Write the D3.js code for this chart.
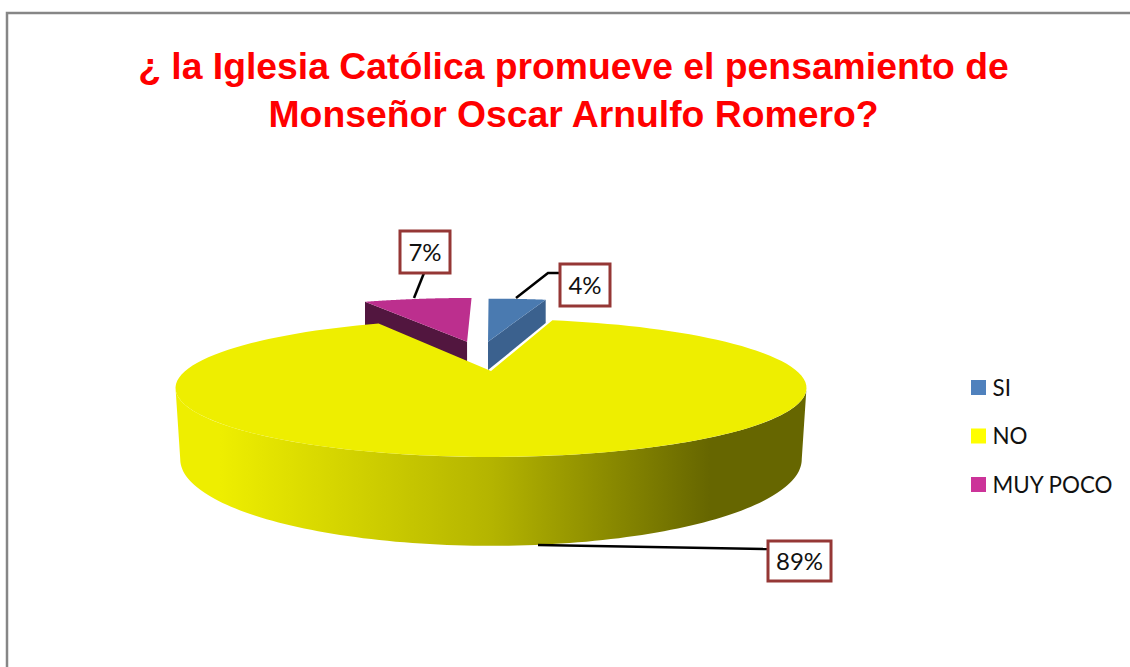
<!DOCTYPE html>
<html><head><meta charset="utf-8">
<script src="https://cdn.jsdelivr.net/npm/d3@7"></script>
<style>html,body{margin:0;padding:0;background:#fff}svg{display:block}</style>
</head><body><svg id="c" width="1130" height="667"></svg>
<script>
const titleLines = ["¿ la Iglesia Católica promueve el pensamiento de", "Monseñor Oscar Arnulfo Romero?"];
const categories = ["SI", "NO", "MUY POCO"];
const seriesValues = [4, 88.6, 7.4];
const topColors = ["#4a7ab0", "#eeee00", "#bc2f8e"];
const sideColors = ["#3b618e", "#eeee00", "#52163f"];
const legendColors = ["#4f81bd", "#ffff00", "#cc3399"];
const explodeX = [-0.011, 0, -0.088];
const explodeY = [-0.51, 0, -0.51];
const sliceRadius = [1.03, 1, 1.05];
const labelBoxes = [[585, 285], [799.5, 561], [425, 252]];
const labelSizes = [[50, 42], [63, 40], [50, 42]];
const leaders = [[[516, 298], [548, 273], [560, 273]], [[538, 545], [768, 549]], [[414, 298], [424, 273]]];

const svg = d3.select("#c");
const defs = svg.append("defs");
const grad = defs.append("linearGradient").attr("id", "side").attr("gradientUnits", "userSpaceOnUse")
  .attr("x1", 176).attr("x2", 807).attr("y1", 0).attr("y2", 0);
[[0, "#eeee00"], [0.07, "#eeee00"], [0.5, "#b4b400"], [0.846, "#666600"], [1, "#666600"]]
  .forEach(s => grad.append("stop").attr("offset", s[0]).attr("stop-color", s[1]));

// frame
svg.append("rect").attr("x", 7).attr("y", 13).attr("width", 1200).attr("height", 800)
  .attr("fill", "#fff").attr("stroke", "#868686").attr("stroke-width", 2.5);

// title
svg.append("g").selectAll("text").data(titleLines).join("text")
  .attr("x", 573.5).attr("y", (d, i) => 79 + i * 48).attr("text-anchor", "middle")
  .attr("font-family", "'Liberation Sans',Arial,sans-serif").attr("font-weight", 700)
  .attr("font-size", 37.3).attr("fill", "#ff0000").text(d => d);

// perspective pie
const cx = 491, cy = 371, persp = 0.246, sx = 305.8, sy = 64.8;
const project = (X, Y, depth, shrink) => {
  const k = 1 / (1 - persp * Y);
  return [cx + sx * shrink * X * k, cy + sy * Y * k + depth * k];
};
const onDisc = (a, i) => [sliceRadius[i] * Math.sin(a) + explodeX[i], -sliceRadius[i] * Math.cos(a) + explodeY[i]];
const pie = d3.pie().sort(null).value(d => d)(seriesValues);
const line = d3.line().curve(d3.curveLinear);
const arcPts = (a0, a1, i, depth, shrink) => d3.range(0, 121).map(t => {
  const p = onDisc(a0 + (a1 - a0) * t / 120, i);
  return project(p[0], p[1], depth, shrink);
});
const centre = (i, depth) => project(explodeX[i], explodeY[i], depth, 1);
const smallDepth = 32, bigDepth = 67;

// small exploded slices (drawn behind the main slice)
[0, 2].forEach(i => {
  const s = pie[i], outer = i === 0 ? s.endAngle : s.startAngle;
  const c0 = centre(i, 0), c1 = centre(i, smallDepth);
  const e = onDisc(outer, i), e0 = project(e[0], e[1], 0, 1), e1 = project(e[0], e[1], smallDepth, 1);
  svg.append("path").attr("d", line([c0, e0, e1, c1]) + "Z").attr("fill", sideColors[i]);
  svg.append("path").attr("d", line([c0, ...arcPts(s.startAngle, s.endAngle, i, 0, 1)]) + "Z").attr("fill", topColors[i]);
});

// main slice: side wall then top
const a0 = 1.815, a1 = 2 * Math.PI - 1.815;
const topEdge = arcPts(a0, a1, 1, 0, 1), botEdge = arcPts(a0, a1, 1, bigDepth, 0.985).reverse();
svg.append("path").attr("d", line([...topEdge, ...botEdge]) + "Z").attr("fill", "url(#side)");
svg.append("path").attr("d", line([centre(1, 0), ...arcPts(pie[1].startAngle, pie[1].endAngle, 1, 0, 1)]) + "Z").attr("fill", topColors[1]);

// leaders and data labels
svg.append("g").selectAll("path").data(leaders).join("path")
  .attr("d", d => line(d)).attr("fill", "none").attr("stroke", "#000").attr("stroke-width", 2.5);
const lab = svg.append("g").selectAll("g").data(seriesValues).join("g")
  .attr("transform", (d, i) => `translate(${labelBoxes[i][0]},${labelBoxes[i][1]})`);
lab.append("rect").attr("x", (d, i) => -labelSizes[i][0] / 2).attr("y", (d, i) => -labelSizes[i][1] / 2)
  .attr("width", (d, i) => labelSizes[i][0]).attr("height", (d, i) => labelSizes[i][1])
  .attr("fill", "#fff").attr("stroke", "#953735").attr("stroke-width", 3);
lab.append("text").attr("text-anchor", "middle").attr("y", 8.5).attr("font-family", "Lato,sans-serif")
  .attr("font-size", 24).attr("fill", "#111").text(d => Math.round(d) + "%");

// legend
const leg = svg.append("g").selectAll("g").data(categories).join("g")
  .attr("transform", (d, i) => `translate(971,${380 + i * 48.5})`);
leg.append("rect").attr("width", 15).attr("height", 15).attr("fill", (d, i) => legendColors[i]);
leg.append("text").attr("x", 21.5).attr("y", 15.5).attr("font-family", "Lato,sans-serif")
  .attr("font-size", 22.4).attr("fill", "#111").text(d => d);
</script></body></html>
